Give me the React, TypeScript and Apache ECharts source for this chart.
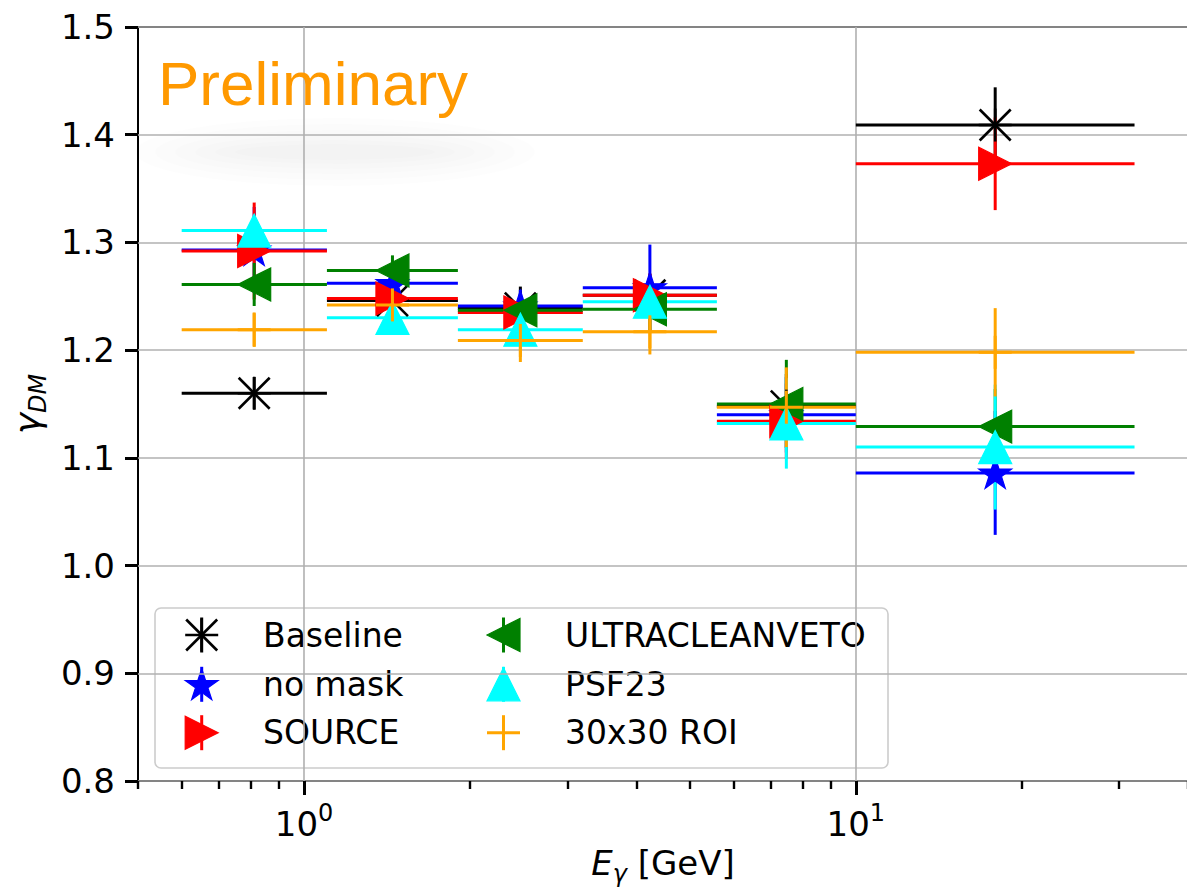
import React, { useEffect, useRef } from "react";
import * as echarts from "echarts";

// ---------- data ----------
const binLow = [0.6, 1.1, 1.9, 3.2, 5.6, 10];
const binHigh = [1.1, 1.9, 3.2, 5.6, 10, 32];
const binCenter = [0.812, 1.446, 2.466, 4.234, 7.483, 17.89];

const baselineVals = [1.16, 1.246, 1.239, 1.251, 1.148, 1.409];
const baselineErr = [0.015, 0.02, 0.02, 0.02, 0.03, 0.035];
const noMaskVals = [1.293, 1.262, 1.241, 1.258, 1.14, 1.086];
const noMaskErr = [0.04, 0.015, 0.015, 0.04, 0.035, 0.0575];
const sourceVals = [1.292, 1.248, 1.235, 1.251, 1.134, 1.373];
const sourceErr = [0.045, 0.015, 0.015, 0.02, 0.035, 0.043];
const ultraVals = [1.261, 1.274, 1.237, 1.238, 1.15, 1.129];
const ultraErr = [0.02, 0.014, 0.015, 0.02, 0.041, 0.035];
const psfVals = [1.311, 1.23, 1.219, 1.245, 1.132, 1.11];
const psfErr = [0.012, 0.012, 0.012, 0.012, 0.042, 0.058];
const roiVals = [1.219, 1.242, 1.209, 1.217, 1.147, 1.198];
const roiErr = [0.016, 0.015, 0.02, 0.021, 0.037, 0.041];

const xMajorTicks = [1, 10];
const xMajorLabels = ["{b|10}{s|0}", "{b|10}{s|1}"];
const xMinorTicks = [0.5, 0.6, 0.7, 0.8, 0.9, 2, 3, 4, 5, 6, 7, 8, 9, 20, 30, 40];

const seriesNames = ["Baseline", "no mask", "SOURCE", "ULTRACLEANVETO", "PSF23", "30x30 ROI"];
const seriesValues = [baselineVals, noMaskVals, sourceVals, ultraVals, psfVals, roiVals];
const seriesErrors = [baselineErr, noMaskErr, sourceErr, ultraErr, psfErr, roiErr];

// ---------- styles ----------
const seriesColors = ["#000000", "#0000ff", "#ff0000", "#008000", "#00ffff", "#ffa500"];
const seriesMarkers = ["asterisk", "star", "triRight", "triLeft", "triUp", "plus"];

const FONT = "DejaVu Sans";

function markerShapes(kind: string, cx: number, cy: number, color: string): any[] {
  const r = 16.5;
  const ln = (x1: number, y1: number, x2: number, y2: number, w: number) => ({
    type: "line",
    shape: { x1, y1, x2, y2 },
    style: { stroke: color, lineWidth: w, lineCap: "butt" },
  });
  const poly = (pts: number[][]) => ({
    type: "polygon",
    shape: { points: pts },
    style: { fill: color, stroke: color, lineWidth: 1.2, lineJoin: "miter" },
  });
  switch (kind) {
    case "asterisk": {
      const d = 15.5;
      return [
        ln(cx, cy - r, cx, cy + r, 2.6),
        ln(cx - r, cy, cx + r, cy, 2.6),
        ln(cx - d, cy - d, cx + d, cy + d, 2.6),
        ln(cx - d, cy + d, cx + d, cy - d, 2.6),
      ];
    }
    case "plus":
      return [ln(cx, cy - r, cx, cy + r, 3), ln(cx - r, cy, cx + r, cy, 3)];
    case "star": {
      const R = 17.2;
      const pts: number[][] = [];
      for (let k = 0; k < 10; k++) {
        const a = ((-90 + k * 36) * Math.PI) / 180;
        const rad = k % 2 === 0 ? R : R * 0.382;
        pts.push([cx + rad * Math.cos(a), cy + 1.5 + rad * Math.sin(a)]);
      }
      return [poly(pts)];
    }
    case "triRight":
      return [poly([[cx + r, cy], [cx - r, cy - r], [cx - r, cy + r]])];
    case "triLeft":
      return [poly([[cx - r, cy], [cx + r, cy - r], [cx + r, cy + r]])];
    case "triUp":
      return [poly([[cx, cy - r], [cx - r, cy + r], [cx + r, cy + r]])];
  }
  return [];
}

function buildOption(): any {
  const series: any[] = [];
  seriesNames.forEach((name, si) => {
    const vals = seriesValues[si];
    const errs = seriesErrors[si];
    const color = seriesColors[si];
    const data = binCenter.map((x, i) => [x, vals[i], binLow[i], binHigh[i], vals[i] - errs[i], vals[i] + errs[i]]);
    series.push({
      type: "custom",
      name: name + " err",
      xAxisIndex: 0,
      yAxisIndex: 0,
      z: 2,
      clip: false,
      encode: { x: 0, y: 1 },
      data,
      renderItem: (params: any, api: any) => {
        const y = api.value(1);
        const l = api.coord([api.value(2), y]);
        const rr = api.coord([api.value(3), y]);
        const t = api.coord([api.value(0), api.value(5)]);
        const b = api.coord([api.value(0), api.value(4)]);
        return {
          type: "group",
          children: [
            { type: "line", shape: { x1: l[0], y1: l[1], x2: rr[0], y2: rr[1] }, style: { stroke: color, lineWidth: 3 } },
            { type: "line", shape: { x1: t[0], y1: t[1], x2: b[0], y2: b[1] }, style: { stroke: color, lineWidth: 3 } },
          ],
        };
      },
    });
  });
  seriesNames.forEach((name, si) => {
    const vals = seriesValues[si];
    const color = seriesColors[si];
    const kind = seriesMarkers[si];
    const data = binCenter.map((x, i) => [x, vals[i]]);
    series.push({
      type: "custom",
      name,
      xAxisIndex: 0,
      yAxisIndex: 0,
      z: 3 + si * 0.01,
      clip: false,
      encode: { x: 0, y: 1 },
      data,
      renderItem: (params: any, api: any) => {
        const p = api.coord([api.value(0), api.value(1)]);
        return { type: "group", children: markerShapes(kind, p[0], p[1], color) };
      },
    });
  });

  // legend built as graphic
  const legendChildren: any[] = [
    {
      type: "rect",
      shape: { x: 155, y: 608, width: 733, height: 160, r: 6 },
      style: { fill: "rgba(255,255,255,0.8)", stroke: "#cccccc", lineWidth: 1.6 },
    },
  ];
  const colX = [201.7, 503.5];
  const textX = [263, 565];
  const rowY = [635, 684.3, 732.7];
  seriesNames.forEach((name, si) => {
    const c = Math.floor(si / 3);
    const r = si % 3;
    const cx = colX[c];
    const cy = rowY[r];
    const color = seriesColors[si];
    legendChildren.push({
      type: "line",
      shape: { x1: cx, y1: cy - 17.5, x2: cx, y2: cy + 17.5 },
      style: { stroke: color, lineWidth: 3 },
    });
    markerShapes(seriesMarkers[si], cx, cy, color).forEach((e) => legendChildren.push(e));
    legendChildren.push({
      type: "text",
      style: {
        x: textX[c],
        y: cy,
        text: name,
        fontFamily: FONT,
        fontSize: 33,
        fill: "#000",
        verticalAlign: "middle",
        align: "left",
      },
    });
  });

  // soft smudge below "Preliminary" (stack of faint ellipses)
  const smudge: any[] = [];
  const smudgeSizes = [
    [200, 34],
    [180, 28],
    [160, 22],
    [140, 17],
    [120, 12],
    [100, 8],
  ];
  smudgeSizes.forEach(([rx, ry]) => {
    smudge.push({
      type: "ellipse",
      silent: true,
      shape: { cx: 335, cy: 152, rx, ry },
      style: { fill: "rgba(0,0,0,0.009)" },
    });
  });

  return {
    animation: false,
    backgroundColor: "#ffffff",
    textStyle: { fontFamily: FONT },
    grid: {
      left: 138,
      top: 27,
      width: 1050,
      height: 754,
      show: true,
      borderColor: "#000",
      borderWidth: 2,
      backgroundColor: "transparent",
      containLabel: false,
      outerBoundsMode: "none",
    },
    xAxis: [
      {
        type: "log",
        logBase: 10,
        min: 0.5,
        max: 40,
        position: "bottom",
        axisLine: { show: false },
        axisTick: {
          show: true,
          length: 14,
          customValues: xMajorTicks,
          lineStyle: { color: "#000", width: 3 },
        },
        axisLabel: {
          show: true,
          customValues: xMajorTicks,
          margin: 20,
          color: "#000",
          formatter: (v: number) => xMajorLabels[xMajorTicks.indexOf(Math.round(v))] ?? "",
          rich: {
            b: { fontSize: 34, fontFamily: FONT, color: "#000", lineHeight: 46 },
            s: { fontSize: 24, fontFamily: FONT, color: "#000", verticalAlign: "top", lineHeight: 24 },
          },
        },
        splitLine: { show: true, lineStyle: { color: "#b0b0b0", width: 1.6 } },
        name: "{e|E}{g|γ}{t| [GeV]}",
        nameLocation: "middle",
        nameGap: 58,
        nameTextStyle: {
          rich: {
            e: { fontSize: 34, fontFamily: FONT, fontStyle: "italic", color: "#000", lineHeight: 46 },
            g: { fontSize: 24, fontFamily: FONT, fontStyle: "italic", color: "#000", verticalAlign: "bottom", lineHeight: 24 },
            t: { fontSize: 34, fontFamily: FONT, color: "#000", lineHeight: 46 },
          },
        },
      },
      {
        type: "log",
        logBase: 10,
        min: 0.5,
        max: 40,
        position: "bottom",
        axisLine: { show: false },
        axisTick: {
          show: true,
          length: 8,
          customValues: xMinorTicks,
          lineStyle: { color: "#000", width: 2.4 },
        },
        axisLabel: { show: false },
        splitLine: { show: false },
      },
    ],
    yAxis: {
      type: "value",
      min: 0.8,
      max: 1.5,
      interval: 0.1,
      axisLine: { show: false },
      axisTick: { show: true, length: 13, lineStyle: { color: "#000", width: 3 } },
      axisLabel: {
        margin: 23,
        color: "#000",
        fontSize: 34,
        fontFamily: FONT,
        formatter: (v: number) => v.toFixed(1),
      },
      splitLine: { show: true, lineStyle: { color: "#b0b0b0", width: 1.6 } },
      name: "{g|γ}{s|DM}",
      nameLocation: "middle",
      nameRotate: 90,
      nameGap: 88,
      nameTextStyle: {
        rich: {
          g: { fontSize: 36, fontFamily: FONT, fontStyle: "italic", color: "#000", lineHeight: 46 },
          s: { fontSize: 24, fontFamily: FONT, fontStyle: "italic", color: "#000", verticalAlign: "bottom", lineHeight: 24 },
        },
      },
    },
    series,
    graphic: [
      { type: "group", z: 1, silent: true, children: smudge },
      {
        type: "text",
        z: 5,
        style: {
          x: 158,
          y: 83,
          text: "Preliminary",
          fontFamily: "Liberation Sans",
          fontSize: 62,
          fill: "#ff9900",
          verticalAlign: "middle",
          align: "left",
        },
      },
      { type: "group", z: 10, children: legendChildren },
    ],
  };
}

export default function App() {
  const ref = useRef<HTMLDivElement>(null);
  useEffect(() => {
    if (!ref.current) return;
    const chart = echarts.init(ref.current, undefined, { renderer: "svg" });
    chart.setOption(buildOption());
    return () => chart.dispose();
  }, []);
  return (
    <div
      ref={ref}
      style={{ position: "absolute", left: 0, top: 0, width: 1187, height: 887, background: "#fff" }}
    />
  );
}
